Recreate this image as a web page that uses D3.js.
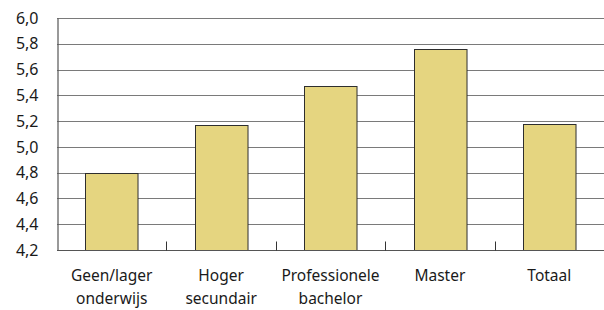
<!DOCTYPE html>
<html lang="nl">
<head>
  <meta charset="UTF-8">
  <title>Bar Chart</title>
  <script src="https://d3js.org/d3.v7.min.js"></script>
  <style>
    body { margin: 0; background: #fff; }
    svg text { font-family: "Noto Sans", sans-serif; fill: #1a1a1a; }
  </style>
</head>
<body>
  <div id="chart"></div>
  <script>
    const categories = [
      ["Geen/lager", "onderwijs"],
      ["Hoger", "secundair"],
      ["Professionele", "bachelor"],
      ["Master"],
      ["Totaal"]
    ];
    const values = [4.80, 5.17, 5.47, 5.76, 5.18];
    const yTicks = [4.2, 4.4, 4.6, 4.8, 5.0, 5.2, 5.4, 5.6, 5.8, 6.0];

    const width = 604;
    const height = 310;
    const margin = { top: 18, right: 0, bottom: 60, left: 57 };

    const svg = d3.select("#chart")
      .append("svg")
      .attr("width", width)
      .attr("height", height);

    const x = d3.scaleBand()
      .domain(d3.range(categories.length))
      .range([margin.left, width - margin.right])
      .paddingInner(0.52)
      .paddingOuter(0.26);

    const y = d3.scaleLinear()
      .domain([4.2, 6.0])
      .range([height - margin.bottom, margin.top]);

    const fmt = d => d.toFixed(1).replace(".", ",");

    // gridlines
    svg.append("g")
      .selectAll("line")
      .data(yTicks)
      .enter()
      .append("line")
      .attr("x1", margin.left)
      .attr("x2", width)
      .attr("y1", d => Math.round(y(d)) + 0.5)
      .attr("y2", d => Math.round(y(d)) + 0.5)
      .attr("stroke", "#7a7a7a")
      .attr("stroke-width", 1.2);

    // bars
    svg.append("g")
      .selectAll("rect")
      .data(values)
      .enter()
      .append("rect")
      .attr("x", (d, i) => Math.round(x(i)) + 0.5)
      .attr("y", d => Math.round(y(d)) + 0.5)
      .attr("width", x.bandwidth())
      .attr("height", d => Math.round(y(4.2)) - Math.round(y(d)))
      .attr("fill", "#e5d580")
      .attr("stroke", "#2e2e2e")
      .attr("stroke-width", 1);

    // y axis
    const yAxis = svg.append("g")
      .attr("transform", `translate(${margin.left + 0.5},0)`)
      .call(d3.axisLeft(y).tickValues(yTicks).tickFormat(fmt).tickSize(0).tickPadding(19));
    yAxis.select(".domain").attr("stroke", "#555").attr("stroke-width", 1.2);
    yAxis.selectAll("text").attr("font-size", 16).attr("font-family", "Noto Sans").attr("fill", "#1a1a1a");

    // x axis baseline and separator ticks
    const base = Math.round(y(4.2)) + 0.5;
    svg.append("line")
      .attr("x1", margin.left)
      .attr("x2", width)
      .attr("y1", base)
      .attr("y2", base)
      .attr("stroke", "#555")
      .attr("stroke-width", 1.2);

    const step = x.step();
    const bounds = d3.range(1, categories.length).map(i => x(i) - step * x.paddingInner() / 2);
    svg.append("g")
      .selectAll("line")
      .data(bounds)
      .enter()
      .append("line")
      .attr("x1", d => Math.round(d) + 0.5)
      .attr("x2", d => Math.round(d) + 0.5)
      .attr("y1", base)
      .attr("y2", base - 9)
      .attr("stroke", "#333")
      .attr("stroke-width", 1);

    // category labels
    const labels = svg.append("g")
      .selectAll("text")
      .data(categories)
      .enter()
      .append("text")
      .attr("text-anchor", "middle")
      .attr("font-size", 15.5)
      .attr("x", (d, i) => x(i) + x.bandwidth() / 2)
      .attr("y", 281);

    labels.selectAll("tspan")
      .data(d => d)
      .enter()
      .append("tspan")
      .attr("x", function () { return d3.select(this.parentNode).attr("x"); })
      .attr("dy", (d, i) => i === 0 ? 0 : 23)
      .text(d => d);
  </script>
</body>
</html>
